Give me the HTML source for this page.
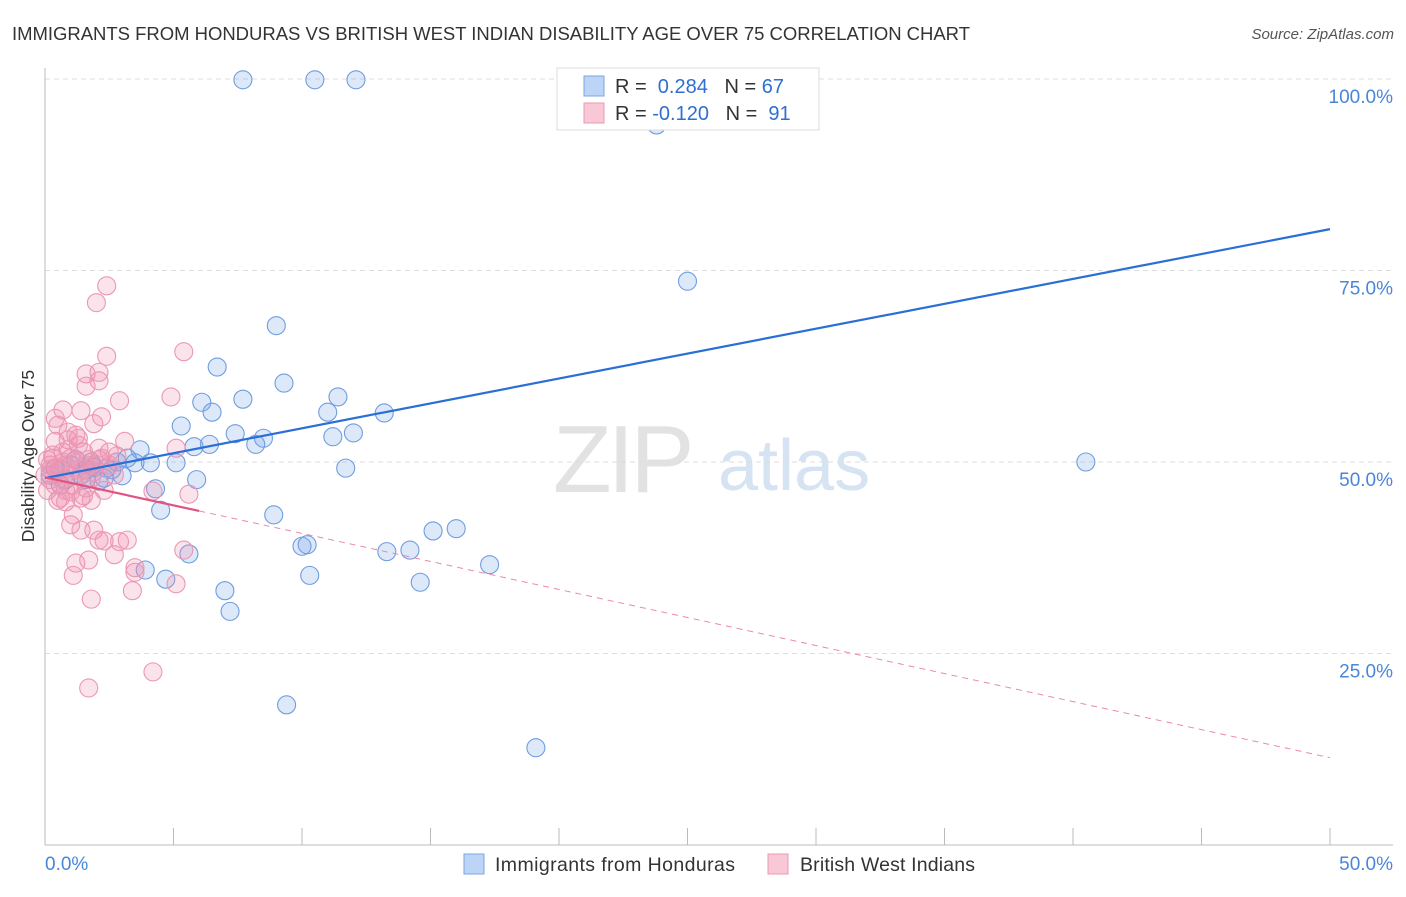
<!DOCTYPE html>
<html><head><meta charset="utf-8"><style>
body{margin:0;background:#fff;font-family:"Liberation Sans",sans-serif}
svg text{font-family:"Liberation Sans",sans-serif}
</style></head><body>
<svg id="chart" width="1406" height="892" viewBox="0 0 1406 892" xmlns="http://www.w3.org/2000/svg">
<text x="12" y="40" font-size="18.5" fill="#333" textLength="958">IMMIGRANTS FROM HONDURAS VS BRITISH WEST INDIAN DISABILITY AGE OVER 75 CORRELATION CHART</text>
<text x="1394" y="39" font-size="15" fill="#555" text-anchor="end" font-style="italic">Source: ZipAtlas.com</text>
<g>
<text x="553" y="492" font-size="96" fill="#e2e2e2" font-family="Liberation Serif" letter-spacing="-4">ZIP</text>
<text x="718" y="490" font-size="72" fill="#d5e3f3">atlas</text>
</g>
<g id="grid"></g>
<g id="axes"></g>
<text transform="translate(34,456) rotate(-90)" font-size="17.5" fill="#333" text-anchor="middle">Disability Age Over 75</text>
<g id="pts"></g>
<g id="trends"></g>
<g>
<rect x="557" y="68" width="262" height="62" fill="#fff" stroke="#ddd"/>
<rect x="584" y="76" width="20" height="20" fill="#bcd4f5" stroke="#7aa6e0"/>
<rect x="584" y="103" width="20" height="20" fill="#f9c8d6" stroke="#e99ab3"/>
<text x="615" y="93" font-size="20" fill="#333">R = <tspan fill="#2f6fd0">&#160;0.284</tspan>&#160;&#160;&#160;N = <tspan fill="#2f6fd0">67</tspan></text>
<text x="615" y="120" font-size="20" fill="#333">R = <tspan fill="#2f6fd0">-0.120</tspan>&#160;&#160;&#160;N = <tspan fill="#2f6fd0">&#160;91</tspan></text>
</g>
<g>
<rect x="464" y="854" width="20" height="20" fill="#bcd4f5" stroke="#7aa6e0"/>
<text x="495" y="871" font-size="19.5" fill="#333" textLength="240">Immigrants from Honduras</text>
<rect x="768" y="854" width="20" height="20" fill="#f9c8d6" stroke="#e99ab3"/>
<text x="800" y="871" font-size="19.5" fill="#333" textLength="175">British West Indians</text>
</g>
</svg>
<script>
const yTicks=[100,75,50,25];
const yTickLabels=["100.0%","75.0%","50.0%","25.0%"];
const xTickCount=10;
const xLabels=["0.0%","50.0%"];
const blueX=[7.7,10.5,12.1,23.8,25.0,9.0,6.7,9.3,11.4,7.7,6.1,6.5,11.0,13.2,5.3,7.4,6.4,8.5,5.8,8.2,11.2,12.0,3.7,3.2,2.8,4.1,5.1,3.5,2.4,1.9,1.6,3.0,2.3,2.1,5.9,4.3,11.7,4.5,8.9,15.1,16.0,5.6,10.0,10.2,13.3,14.2,3.9,4.7,10.3,17.3,14.6,7.0,7.2,9.4,19.1,40.5,0.6,1.0,0.2,0.4,1.4,0.8,1.2,1.8,0.6,1.6,2.6];
const blueY=[99.9,99.9,99.9,94.0,73.6,67.8,62.4,60.3,58.5,58.2,57.8,56.5,56.5,56.4,54.7,53.7,52.3,53.1,52.0,52.3,53.3,53.8,51.6,50.5,50.0,49.9,49.9,49.9,49.2,49.3,49.0,48.2,47.9,47.5,47.7,46.5,49.2,43.7,43.1,41.0,41.3,38.0,39.0,39.2,38.3,38.5,35.9,34.7,35.2,36.6,34.3,33.2,30.5,18.3,12.7,50.0,49.0,49.6,48.3,49.2,48.3,47.7,50.3,50.0,47.0,47.7,49.0];
const pinkX=[2.4,2.0,2.4,5.4,2.1,1.6,2.1,1.6,4.9,2.9,0.7,1.4,2.2,1.9,0.4,0.9,1.2,0.9,1.3,3.1,0.4,0.7,1.5,2.5,0.1,1.0,1.3,1.7,1.9,5.1,0.6,0.2,1.1,1.8,2.3,0.6,1.4,0.8,1.5,2.8,0.2,0.4,0.8,0.0,0.3,1.1,1.6,2.1,1.8,5.6,4.2,1.1,1.0,1.9,1.4,2.1,3.2,2.9,2.3,2.7,5.4,3.5,3.5,1.8,3.4,5.1,1.2,1.1,1.7,4.2,1.7,0.8,0.5,0.1,0.7,1.2,1.9,2.5,1.6,0.2,0.9,1.3,2.1,0.5,0.7,1.0,2.2,2.7,0.3,1.5,0.5];
const pinkY=[73.0,70.8,63.8,64.4,61.7,61.5,60.6,59.9,58.5,58.0,56.8,56.7,55.9,55.0,55.7,53.9,53.5,52.9,53.1,52.7,52.7,51.3,51.3,51.3,50.3,50.5,50.0,50.3,49.5,51.8,49.0,47.7,48.2,47.9,46.3,45.3,45.3,44.8,45.6,50.8,49.6,47.0,49.6,48.3,50.9,47.0,46.6,50.3,45.0,45.8,46.2,43.1,41.8,41.1,41.1,39.8,39.8,39.6,39.7,37.9,38.5,35.6,36.2,32.1,33.2,34.1,36.8,35.2,37.2,22.6,20.5,46.3,48.3,46.3,50.0,49.0,48.7,49.6,49.6,49.0,51.6,52.2,51.8,45.0,47.7,46.1,50.5,48.3,50.5,49.0,54.8];
const blueTrend=[47.9,80.4];
const pinkTrend=[48.0,11.4];
const pinkSolidEnd=6.0;

const NS="http://www.w3.org/2000/svg";
const X0=45,X1=1330,Y0=845,Y100=79;
const sx=v=>X0+(v/50)*(X1-X0);
const sy=v=>Y0-(v/100)*(Y0-Y100);
function mk(t,a,p){const e=document.createElementNS(NS,t);for(const k in a)e.setAttribute(k,a[k]);p.appendChild(e);return e;}
const grid=document.getElementById('grid'),axes=document.getElementById('axes');
yTicks.forEach((t,i)=>{
  const l=mk('line',{x1:X0,x2:1393,y1:sy(t),y2:sy(t),stroke:'#ddd','stroke-dasharray':'5,4'},grid);
  
  
  const tx=mk('text',{x:1393,y:sy(t)+24,'font-size':19,fill:'#4a86d8','text-anchor':'end'},axes);
  tx.textContent=yTickLabels[i];
  
  
});
mk('line',{x1:X0,x2:X0,y1:68,y2:Y0,stroke:'#bbb'},axes);
mk('line',{x1:X0,x2:1393,y1:Y0,y2:Y0,stroke:'#bbb'},axes);
for(let i=0;i<=xTickCount;i++){
  const v=i*50/xTickCount;
  const tk=mk('line',{x1:sx(v),x2:sx(v),y1:828,y2:Y0,stroke:'#bbb'},axes);
  
  
}
const xl0=mk('text',{x:45,y:870,'font-size':19,fill:'#4a86d8'},axes);xl0.textContent=xLabels[0];


const xl1=mk('text',{x:1393,y:870,'font-size':19,fill:'#4a86d8','text-anchor':'end'},axes);xl1.textContent=xLabels[1];


const pts=document.getElementById('pts');


blueX.forEach((x,i)=>{
  const c=mk('circle',{cx:sx(x),cy:sy(blueY[i]),r:9,fill:'rgba(120,165,230,0.25)',stroke:'#6e9de0','stroke-width':1.1},pts);
  
  
});
pinkX.forEach((x,i)=>{
  const c=mk('circle',{cx:sx(x),cy:sy(pinkY[i]),r:9,fill:'rgba(240,145,175,0.25)',stroke:'#ec97b2','stroke-width':1.1},pts);
  
  
});
const tr=document.getElementById('trends');
const bl=mk('line',{x1:sx(0),y1:sy(blueTrend[0]),x2:sx(50),y2:sy(blueTrend[1]),stroke:'#2a6fd6','stroke-width':2.2},tr);


const pAt=v=>pinkTrend[0]+(pinkTrend[1]-pinkTrend[0])*v/50;
const pd=mk('line',{x1:sx(pinkSolidEnd),y1:sy(pAt(pinkSolidEnd)),x2:sx(50),y2:sy(pinkTrend[1]),stroke:'#e98aa9','stroke-width':1,'stroke-dasharray':'6,5'},tr);


const ps=mk('line',{x1:sx(0),y1:sy(pinkTrend[0]),x2:sx(pinkSolidEnd),y2:sy(pAt(pinkSolidEnd)),stroke:'#e0557f','stroke-width':2.2},tr);


</script>
</body></html>
